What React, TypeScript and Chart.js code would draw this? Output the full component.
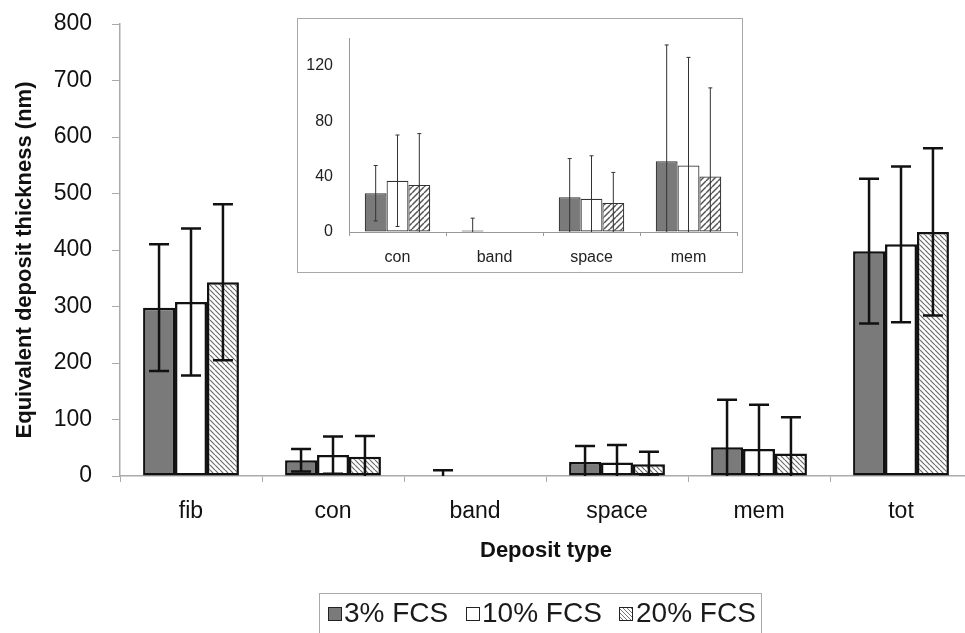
import React, { useEffect, useRef } from 'react';
import { Chart, registerables } from 'chart.js';

Chart.register(...registerables);

// ---- data ----
const categories = ['fib', 'con', 'band', 'space', 'mem', 'tot'];
const insetCategories = ['con', 'band', 'space', 'mem'];
const seriesLabels = ['3% FCS', '10% FCS', '20% FCS'];
const yTitle = 'Equivalent deposit thickness (nm)';
const xTitle = 'Deposit type';

const fcs3 = [298, 28, 1, 25, 51, 398];
const fcs3Err = [112, 20, 9, 28, 84, 128];
const fcs10 = [308, 37, 0, 24, 48, 410];
const fcs10Err = [130, 33, 0, 31, 78, 138];
const fcs20 = [343, 34, 0, 21, 40, 432];
const fcs20Err = [138, 37, 0, 22, 64, 148];

const mainTicks = { min: 0, max: 800, step: 100 };
const insetTicks = { min: 0, max: 140, step: 40, lastLabel: 120 };

const FONT = "'Liberation Sans', Arial, Helvetica, sans-serif";

function makeHatch(dir: 'back' | 'fwd', size: number, color: string, lw: number) {
  const c = document.createElement('canvas');
  c.width = size;
  c.height = size;
  const g = c.getContext('2d')!;
  g.fillStyle = '#ffffff';
  g.fillRect(0, 0, size, size);
  g.strokeStyle = color;
  g.lineWidth = lw;
  g.beginPath();
  if (dir === 'back') {
    for (const k of [-size, 0, size]) {
      g.moveTo(k, 0);
      g.lineTo(k + size, size);
    }
  } else {
    for (const k of [0, size, 2 * size]) {
      g.moveTo(k, 0);
      g.lineTo(k - size, size);
    }
  }
  g.stroke();
  return g.createPattern(c, 'repeat')!;
}

const errorBarPlugin = {
  id: 'errorBars',
  afterDatasetsDraw(chart: any, _args: any, opts: any) {
    const { ctx, chartArea } = chart;
    const y = chart.scales.y;
    ctx.save();
    ctx.beginPath();
    ctx.rect(chartArea.left, 0, chartArea.right - chartArea.left, chartArea.bottom);
    ctx.clip();
    ctx.strokeStyle = opts.color;
    ctx.lineWidth = opts.lineWidth;
    chart.data.datasets.forEach((ds: any, di: number) => {
      const meta = chart.getDatasetMeta(di);
      const errs = opts.errors[di];
      meta.data.forEach((bar: any, i: number) => {
        const v = ds.data[i];
        const e = errs[i];
        if (!e) return;
        const x = bar.x;
        const yTop = y.getPixelForValue(v + e);
        const yBot = y.getPixelForValue(v - e);
        const h = opts.capWidth / 2;
        ctx.beginPath();
        ctx.moveTo(x, yTop);
        ctx.lineTo(x, yBot);
        ctx.moveTo(x - h, yTop);
        ctx.lineTo(x + h, yTop);
        ctx.moveTo(x - h, yBot);
        ctx.lineTo(x + h, yBot);
        ctx.stroke();
      });
    });
    ctx.restore();
  },
};

// vertical axis title drawn slightly below the axis centre, as in the original figure
const yTitlePlugin = {
  id: 'yTitle',
  afterDraw(chart: any, _args: any, opts: any) {
    const { ctx, chartArea } = chart;
    ctx.save();
    ctx.translate(opts.x, (chartArea.top + chartArea.bottom) / 2 + opts.shift);
    ctx.rotate(-Math.PI / 2);
    ctx.font = `bold 22px ${FONT}`;
    ctx.fillStyle = '#111111';
    ctx.textAlign = 'center';
    ctx.textBaseline = 'middle';
    ctx.fillText(opts.text, 0, 0);
    ctx.restore();
  },
};

export default function App() {
  const mainRef = useRef<HTMLCanvasElement>(null);
  const insetRef = useRef<HTMLCanvasElement>(null);

  useEffect(() => {
    const hatchMain = makeHatch('back', 5, '#6a6a6a', 1.2);
    const hatchInset = makeHatch('fwd', 6, '#555555', 1.5);

    const main = new Chart(mainRef.current!, {
      type: 'bar',
      data: {
        labels: categories,
        datasets: [
          { label: seriesLabels[0], data: fcs3, backgroundColor: '#7a7a7a' },
          { label: seriesLabels[1], data: fcs10, backgroundColor: '#ffffff' },
          { label: seriesLabels[2], data: fcs20, backgroundColor: hatchMain as any },
        ].map((d) => ({
          ...d,
          borderColor: '#111111',
          borderWidth: 2.5,
          borderSkipped: false,
          categoryPercentage: 0.675,
          barPercentage: 1,
        })),
      },
      options: {
        responsive: false,
        animation: false,
        events: [],
        layout: { padding: { top: 24, right: 0, left: 0, bottom: 0 } },
        plugins: {
          legend: { display: false },
          tooltip: { enabled: false },
          errorBars: { errors: [fcs3Err, fcs10Err, fcs20Err], color: '#111111', lineWidth: 2.5, capWidth: 20 },
          yTitle: { text: yTitle, x: 25, shift: 10 },
        } as any,
        scales: {
          x: {
            grid: { display: true, drawOnChartArea: false, drawTicks: true, tickLength: 6, color: '#aaaaaa', offset: true },
            border: { color: '#aaaaaa', width: 1.5 },
            ticks: { font: { family: FONT, size: 23 }, color: '#111111', padding: 16, maxRotation: 0, autoSkip: false },
            title: {
              display: true,
              text: xTitle,
              color: '#111111',
              font: { family: FONT, size: 22, weight: 'bold' },
              padding: { top: 0, bottom: 69 },
            },
            afterFit: (s: any) => {
              s.height = 157;
              s.paddingLeft = 0;
              s.paddingRight = 0;
            },
          },
          y: {
            min: mainTicks.min,
            max: mainTicks.max,
            ticks: { stepSize: mainTicks.step, font: { family: FONT, size: 23 }, color: '#111111', padding: 20 },
            grid: { display: true, drawOnChartArea: false, drawTicks: true, tickLength: 8, color: '#aaaaaa' },
            border: { color: '#aaaaaa', width: 1.5 },
            title: { display: false },
            afterFit: (s: any) => {
              s.width = 120;
              s.paddingTop = 0;
              s.paddingBottom = 0;
            },
          },
        },
      },
      plugins: [errorBarPlugin as any, yTitlePlugin as any],
    });

    const sl = (a: number[]) => a.slice(1, 5);
    const inset = new Chart(insetRef.current!, {
      type: 'bar',
      data: {
        labels: insetCategories,
        datasets: [
          { label: seriesLabels[0], data: sl(fcs3), backgroundColor: '#7a7a7a' },
          { label: seriesLabels[1], data: sl(fcs10), backgroundColor: '#ffffff' },
          { label: seriesLabels[2], data: sl(fcs20), backgroundColor: hatchInset as any },
        ].map((d) => ({
          ...d,
          borderColor: '#333333',
          borderWidth: 1.2,
          borderSkipped: false,
          categoryPercentage: 0.675,
          barPercentage: 1,
        })),
      },
      options: {
        responsive: false,
        animation: false,
        events: [],
        layout: { padding: { top: 19, right: 5, left: 0, bottom: 0 } },
        plugins: {
          legend: { display: false },
          tooltip: { enabled: false },
          errorBars: { errors: [sl(fcs3Err), sl(fcs10Err), sl(fcs20Err)], color: '#333333', lineWidth: 1, capWidth: 4 },
        } as any,
        scales: {
          x: {
            grid: { display: true, drawOnChartArea: false, drawTicks: true, tickLength: 4, color: '#999999', offset: true },
            border: { color: '#999999', width: 1 },
            ticks: { font: { family: FONT, size: 16 }, color: '#222222', padding: 12, maxRotation: 0, autoSkip: false },
            afterFit: (s: any) => {
              s.height = 40;
              s.paddingLeft = 0;
              s.paddingRight = 0;
            },
          },
          y: {
            min: insetTicks.min,
            max: insetTicks.max,
            ticks: { stepSize: insetTicks.step, font: { family: FONT, size: 16 }, color: '#222222', padding: 16 },
            grid: { display: true, drawOnChartArea: false, drawTicks: false, color: '#999999' },
            border: { color: '#999999', width: 1 },
            afterBuildTicks: (s: any) => {
              s.ticks = s.ticks.filter((t: any) => t.value <= insetTicks.lastLabel);
            },
            afterFit: (s: any) => {
              s.width = 51;
              s.paddingTop = 0;
              s.paddingBottom = 0;
            },
          },
        },
      },
      plugins: [errorBarPlugin as any],
    });

    return () => {
      main.destroy();
      inset.destroy();
    };
  }, []);

  const legendText: React.CSSProperties = {
    position: 'absolute',
    top: 599,
    height: 28,
    lineHeight: '28px',
    fontFamily: FONT,
    fontSize: 28,
    color: '#1a1a1a',
    whiteSpace: 'nowrap',
  };
  const sw: React.CSSProperties = {
    position: 'absolute',
    top: 607,
    width: 14,
    height: 14,
    border: '1px solid #222',
    boxSizing: 'border-box',
  };

  return (
    <div
      style={{
        position: 'fixed',
        left: 0,
        top: 0,
        width: 965,
        height: 633,
        overflow: 'hidden',
        background: '#ffffff',
      }}
    >
      <canvas
        ref={mainRef}
        width={972}
        height={633}
        style={{ position: 'absolute', left: 0, top: 0, width: 972, height: 633, display: 'block' }}
      />
      <div
        style={{
          position: 'absolute',
          left: 297,
          top: 18,
          width: 446,
          height: 255,
          border: '1px solid #a8a8a8',
          boxSizing: 'border-box',
          background: '#ffffff',
        }}
      >
        <canvas ref={insetRef} width={444} height={253} style={{ display: 'block', width: 444, height: 253 }} />
      </div>
      <div
        style={{
          position: 'absolute',
          left: 319,
          top: 593,
          width: 443,
          height: 60,
          border: '1px solid #a8a8a8',
          boxSizing: 'border-box',
        }}
      />
      <div style={{ ...sw, left: 328, background: '#7a7a7a' }} />
      <div style={{ ...legendText, left: 344 }}>{seriesLabels[0]}</div>
      <div style={{ ...sw, left: 466, background: '#ffffff' }} />
      <div style={{ ...legendText, left: 482 }}>{seriesLabels[1]}</div>
      <div
        style={{
          ...sw,
          left: 619,
          background: 'repeating-linear-gradient(45deg, #ffffff 0px, #ffffff 1.6px, #777777 1.6px, #777777 2.8px)',
        }}
      />
      <div style={{ ...legendText, left: 636 }}>{seriesLabels[2]}</div>
    </div>
  );
}
